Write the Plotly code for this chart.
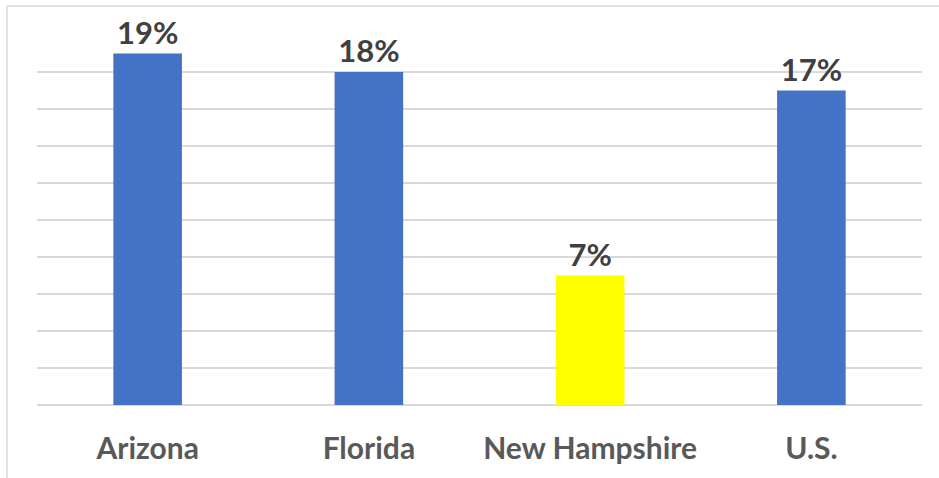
import plotly.graph_objects as go

categories = ["Arizona", "Florida", "New Hampshire", "U.S."]
values = [19, 18, 7, 17]
bar_colors = ["#4472C4", "#4472C4", "#FFFF00", "#4472C4"]
value_labels = [f"{v}%" for v in values]

W, H = 939, 478
L, R, T, B = 37, 17, 35, 73

fig = go.Figure(go.Bar(
    x=categories, y=values, marker=dict(color=bar_colors, line=dict(width=0)),
    width=0.31,
    text=value_labels, textposition="outside", cliponaxis=False,
    textfont=dict(family="Lato", size=31, color="#404040", weight="bold"),
))

pw = W - L - R
ph = H - T - B
def px_x(p):
    return (p - L) / pw
def px_y(p):
    return (H - B - p) / ph

fig.update_layout(
    width=W, height=H, margin=dict(l=L, r=R, t=T, b=B),
    paper_bgcolor="white", plot_bgcolor="white", showlegend=False,
    bargap=0.69,
    xaxis=dict(showline=False, ticks="outside", ticklen=17, tickcolor="rgba(0,0,0,0)",
               tickfont=dict(family="Lato", size=30, color="#595959", weight="bold")),
    yaxis=dict(range=[0, 20], dtick=2, showticklabels=False, showgrid=True,
               gridcolor="#D9D9D9", gridwidth=1.5, zeroline=True, zerolinecolor="#D9D9D9",
               zerolinewidth=1.5, showline=False),
    shapes=[
        dict(type="line", xref="paper", yref="paper", x0=px_x(7), x1=px_x(7),
             y0=px_y(6), y1=px_y(H + 5), line=dict(color="#D9D9D9", width=1.5)),
        dict(type="line", xref="paper", yref="paper", x0=px_x(7), x1=px_x(W + 5),
             y0=px_y(6), y1=px_y(6), line=dict(color="#D9D9D9", width=1.5)),
    ],
)

fig.write_html("out.html", config={"displayModeBar": False},
               post_script="document.body.style.margin='0';")
